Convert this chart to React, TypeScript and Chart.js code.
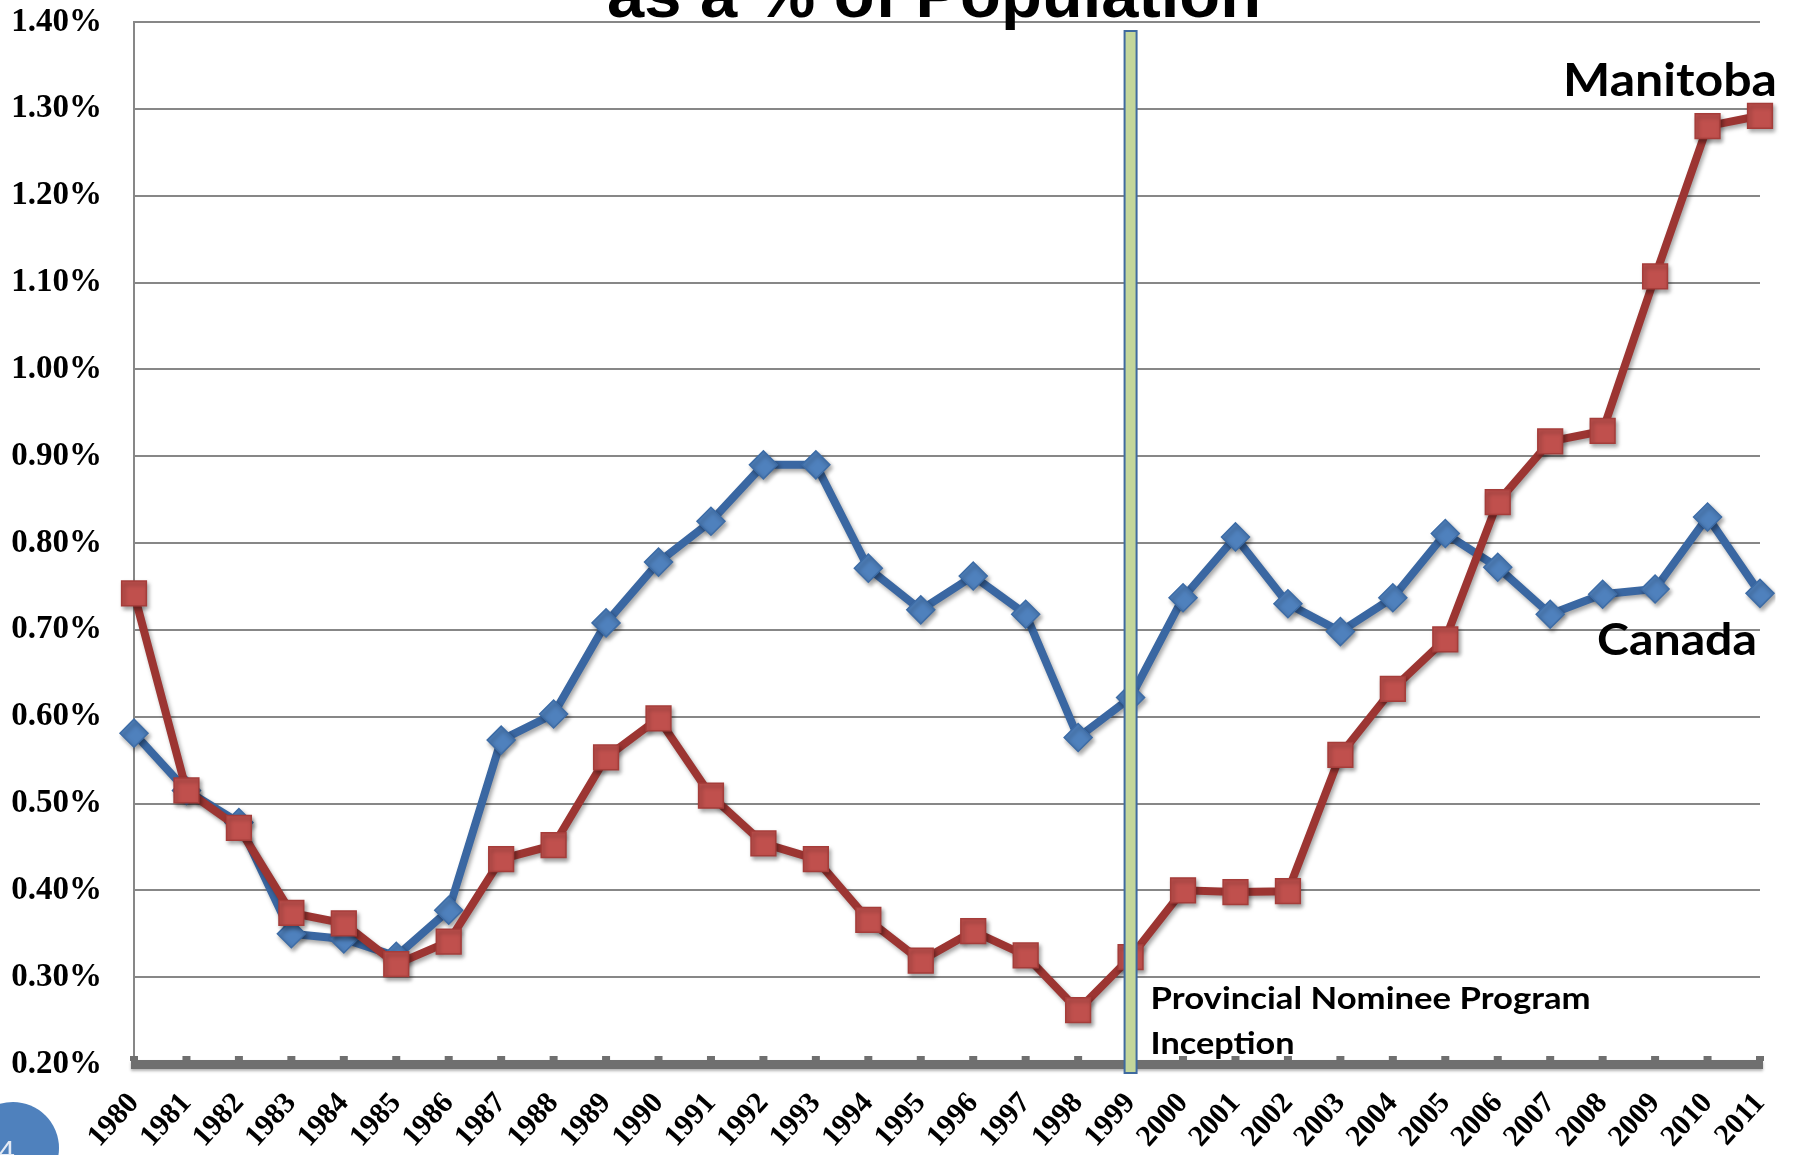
import React, { useEffect, useRef } from "react";
import { Chart, registerables } from "chart.js";

Chart.register(...registerables);

const years = [
  "1980", "1981", "1982", "1983", "1984", "1985", "1986", "1987", "1988", "1989",
  "1990", "1991", "1992", "1993", "1994", "1995", "1996", "1997", "1998", "1999",
  "2000", "2001", "2002", "2003", "2004", "2005", "2006", "2007", "2008", "2009",
  "2010", "2011",
];

const canada = [
  0.581, 0.515, 0.478, 0.350, 0.344, 0.324, 0.377, 0.573, 0.603, 0.708,
  0.778, 0.825, 0.890, 0.890, 0.771, 0.723, 0.762, 0.718, 0.576, 0.622,
  0.737, 0.807, 0.730, 0.698, 0.737, 0.811, 0.772, 0.718, 0.741, 0.747,
  0.830, 0.742,
];

const manitoba = [
  0.742, 0.515, 0.472, 0.374, 0.362, 0.315, 0.341, 0.436, 0.452, 0.553,
  0.598, 0.509, 0.454, 0.436, 0.366, 0.319, 0.353, 0.325, 0.262, 0.323,
  0.400, 0.398, 0.399, 0.556, 0.632, 0.689, 0.847, 0.917, 0.929, 1.107,
  1.280, 1.292,
];

const yMin = 0.2;
const yMax = 1.4;
const yStep = 0.1;

const titleText = "as a % of Population";
const programYear = "1999";
const programNote = ["Provincial Nominee Program", "Inception"];
const seriesLabels = ["Manitoba", "Canada"];
const slideNumber = "4";

function drawFitted(ctx: CanvasRenderingContext2D, text: string, x: number, y: number, width: number, font: string, align: "left" | "center" = "left") {
  ctx.save();
  ctx.font = font;
  ctx.textBaseline = "alphabetic";
  ctx.textAlign = "left";
  const w = ctx.measureText(text).width;
  const sx = width / w;
  const left = align === "center" ? x - width / 2 : x;
  ctx.translate(left, y);
  ctx.scale(sx, 1);
  ctx.fillStyle = "#000000";
  ctx.fillText(text, 0, 0);
  ctx.restore();
}

const shadowPlugin = {
  id: "shadowPlugin",
  beforeDatasetDraw(chart: any) {
    const ctx = chart.ctx;
    ctx.save();
    ctx.shadowColor = "rgba(0,0,0,0.35)";
    ctx.shadowBlur = 4;
    ctx.shadowOffsetX = 2;
    ctx.shadowOffsetY = 3;
  },
  afterDatasetDraw(chart: any) {
    chart.ctx.restore();
  },
};

const decorPlugin = {
  id: "decorPlugin",
  beforeDatasetsDraw(chart: any) {
    const ctx = chart.ctx as CanvasRenderingContext2D;
    const area = chart.chartArea;
    const xs = chart.scales.x;
    ctx.save();
    ctx.fillStyle = "#6f6f6f";
    ctx.shadowColor = "rgba(0,0,0,0.3)";
    ctx.shadowBlur = 3;
    ctx.shadowOffsetY = 2;
    ctx.fillRect(area.left - 3, area.bottom - 4, area.right - area.left + 6, 9);
    ctx.shadowColor = "rgba(0,0,0,0)";
    for (let i = 0; i < years.length; i++) {
      const px = xs.getPixelForValue(i);
      ctx.fillRect(px - 4, area.bottom - 8, 8, 5);
    }
    ctx.restore();
  },
  afterDatasetsDraw(chart: any) {
    const ctx = chart.ctx as CanvasRenderingContext2D;
    const area = chart.chartArea;
    const xs = chart.scales.x;
    const ys = chart.scales.y;
    const bx = xs.getPixelForValue(years.indexOf(programYear));
    ctx.save();
    ctx.fillStyle = "#c3d69b";
    ctx.strokeStyle = "#3f6a9f";
    ctx.lineWidth = 2;
    ctx.fillRect(bx - 6, area.top + 9, 12, area.bottom - area.top);
    ctx.strokeRect(bx - 6, area.top + 9, 12, area.bottom - area.top);
    ctx.restore();

    const base = ys.getPixelForValue(yMin);
    drawFitted(ctx, programNote[0], bx + 20, base - 55, 440, "bold 31px Lato");
    drawFitted(ctx, programNote[1], bx + 20, base - 10, 144, "bold 31px Lato");
    drawFitted(ctx, seriesLabels[0], 1563, 96, 214, "bold 46px Lato");
    drawFitted(ctx, seriesLabels[1], 1597, 655, 160, "bold 44px Lato");

    drawFitted(ctx, titleText, 934, 17, 654, "bold 64px 'Liberation Sans'", "center");
  },
  afterDraw(chart: any) {
    const ctx = chart.ctx as CanvasRenderingContext2D;
    ctx.save();
    ctx.fillStyle = "#4f81bd";
    ctx.beginPath();
    ctx.arc(13, 1148, 46, 0, Math.PI * 2);
    ctx.fill();
    ctx.fillStyle = "#e4eaf4";
    ctx.font = "30px 'Liberation Sans'";
    ctx.textAlign = "right";
    ctx.textBaseline = "alphabetic";
    ctx.fillText(slideNumber, 15, 1161);
    ctx.restore();
  },
};

export default function App() {
  const canvasRef = useRef<HTMLCanvasElement | null>(null);

  useEffect(() => {
    const canvas = canvasRef.current;
    if (!canvas) return;
    const chart = new Chart(canvas, {
      type: "line",
      data: {
        labels: years,
        datasets: [
          {
            label: "Manitoba",
            data: manitoba,
            borderColor: "#9c3532",
            borderWidth: 8,
            backgroundColor: "#c0504d",
            pointStyle: "rect",
            pointRadius: 17.5,
            pointBorderColor: "#a53d3a",
            pointBorderWidth: 1.5,
            pointBackgroundColor: "#c0504d",
            tension: 0,
            fill: false,
          },
          {
            label: "Canada",
            data: canada,
            borderColor: "#3a67a2",
            borderWidth: 8,
            backgroundColor: "#4f81bd",
            pointStyle: "rectRot",
            pointRadius: 14,
            pointBorderColor: "#3d6ca6",
            pointBorderWidth: 1.5,
            pointBackgroundColor: "#4f81bd",
            tension: 0,
            fill: false,
          },
        ],
      },
      options: {
        animation: false,
        responsive: false,
        maintainAspectRatio: false,
        devicePixelRatio: 1,
        layout: { padding: { left: 0, top: 22, right: 36, bottom: 0 } },
        plugins: {
          legend: { display: false },
          tooltip: { enabled: false },
          title: { display: false },
        },
        scales: {
          x: {
            type: "category",
            offset: false,
            grid: { display: false, drawTicks: false },
            border: { display: false },
            ticks: {
              autoSkip: false,
              minRotation: 48,
              maxRotation: 48,
              padding: 22,
              color: "#000000",
              font: { family: "'Liberation Serif'", size: 30, weight: "bold" },
            },
            afterFit(scale: any) {
              scale.height = 91;
              scale.paddingLeft = 0;
              scale.paddingRight = 0;
            },
          },
          y: {
            min: yMin,
            max: yMax,
            ticks: {
              stepSize: yStep,
              padding: 32,
              color: "#000000",
              font: { family: "'Liberation Serif'", size: 33, weight: "bold" },
              callback: (v: any) => Number(v).toFixed(2) + "%",
            },
            grid: { color: "#878787", lineWidth: 2, drawTicks: false },
            border: { color: "#878787", width: 2 },
            afterFit(scale: any) {
              scale.width = 134;
              scale.paddingTop = 0;
              scale.paddingBottom = 0;
            },
          },
        },
      },
      plugins: [shadowPlugin, decorPlugin],
    });
    return () => chart.destroy();
  }, []);

  return (
    <div style={{ position: "fixed", left: 0, top: 0, width: 1796, height: 1155, overflow: "hidden", background: "#ffffff" }}>
      <canvas ref={canvasRef} width={1796} height={1155} style={{ display: "block", width: 1796, height: 1155 }} />
    </div>
  );
}
